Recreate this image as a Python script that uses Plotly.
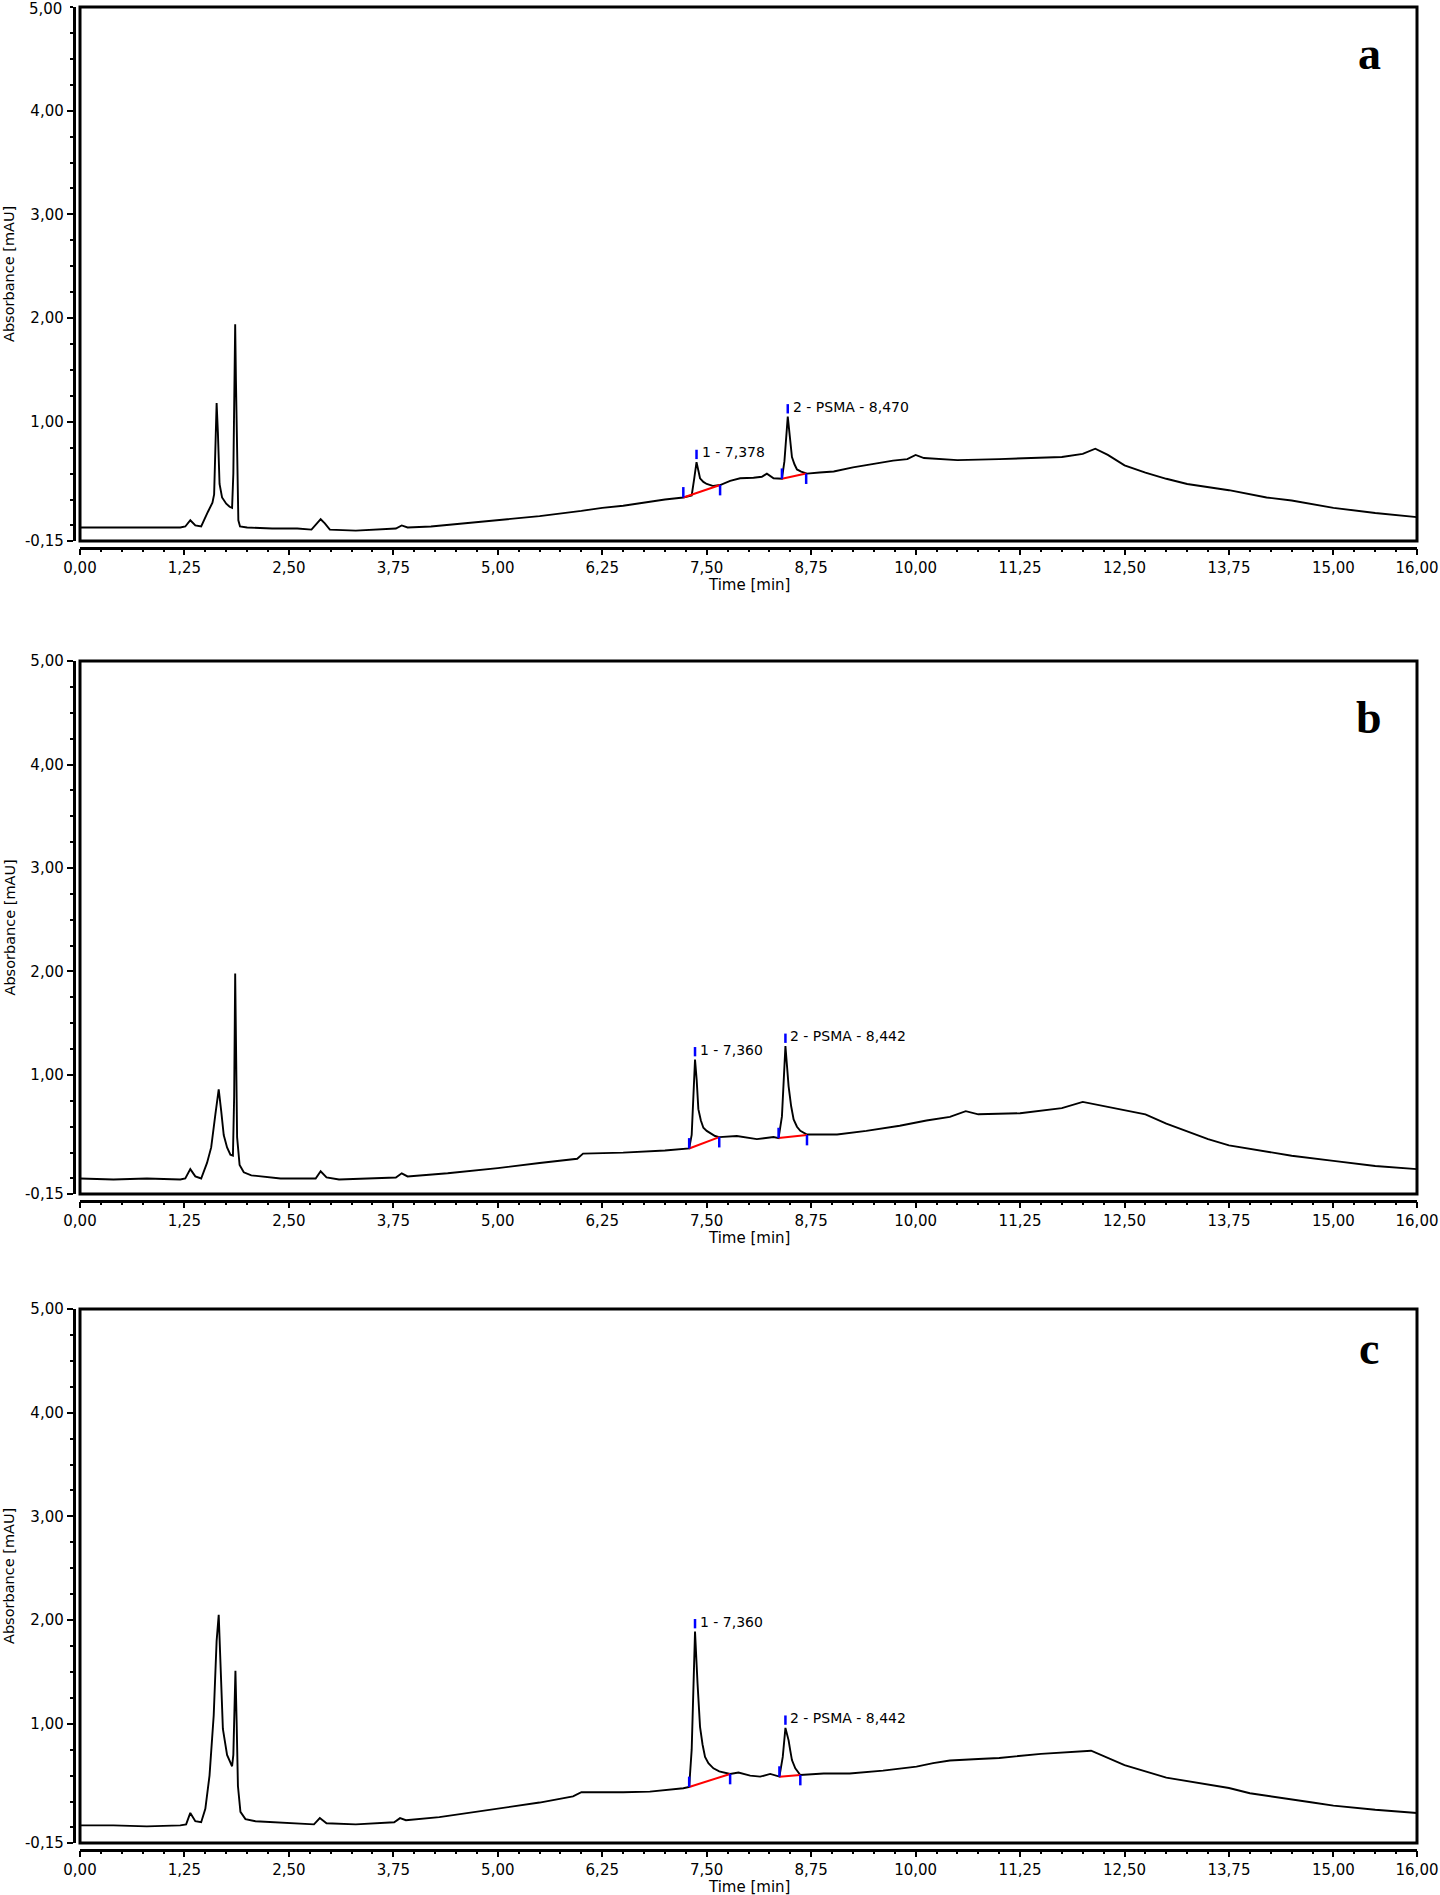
import plotly.graph_objects as go

W, H = 1440, 1895

# ---------------- data ----------------
time_a = [0.00, 0.30, 0.60, 0.90, 1.20, 1.26, 1.32, 1.38, 1.45, 1.53, 1.585, 1.605, 1.625, 1.635, 1.65, 1.67,
          1.70, 1.75, 1.79, 1.82, 1.835, 1.848, 1.857, 1.866, 1.88, 1.895, 1.915, 2.00, 2.30, 2.60, 2.77, 2.83,
          2.88, 2.93, 2.99, 3.30, 3.60, 3.78, 3.85, 3.92, 4.20, 4.60, 5.00, 5.50, 6.00, 6.25, 6.50, 6.80, 7.00,
          7.22, 7.32, 7.35, 7.378, 7.40, 7.42, 7.46, 7.50, 7.58, 7.66, 7.78, 7.90, 8.06, 8.16, 8.22, 8.30, 8.40,
          8.43, 8.47, 8.50, 8.52, 8.55, 8.58, 8.63, 8.70, 8.85, 9.02, 9.25, 9.53, 9.73, 9.90, 10.00, 10.10, 10.50,
          11.00, 11.50, 11.75, 12.00, 12.15, 12.30, 12.50, 12.75, 13.00, 13.25, 13.75, 14.20, 14.50, 15.00, 15.50,
          16.00]
abs_a = [-0.02, -0.02, -0.02, -0.02, -0.02, -0.01, 0.05, 0.00, -0.01, 0.13, 0.22, 0.30, 0.95, 1.18, 0.90, 0.40,
         0.27, 0.21, 0.18, 0.17, 0.50, 1.60, 1.94, 1.40, 0.64, 0.05, -0.01, -0.02, -0.03, -0.03, -0.04, 0.02,
         0.06, 0.02, -0.04, -0.05, -0.04, -0.03, 0.00, -0.02, -0.01, 0.02, 0.05, 0.09, 0.14, 0.17, 0.19, 0.23, 0.25,
         0.27, 0.29, 0.45, 0.61, 0.53, 0.455, 0.42, 0.40, 0.38, 0.39, 0.43, 0.455, 0.46, 0.47, 0.50, 0.455, 0.45,
         0.62, 1.05, 0.80, 0.66, 0.59, 0.54, 0.52, 0.50, 0.51, 0.52, 0.56, 0.60, 0.625, 0.64, 0.68, 0.65, 0.63,
         0.64, 0.65, 0.66, 0.69, 0.74, 0.68, 0.58, 0.51, 0.45, 0.40, 0.34, 0.27, 0.24, 0.17, 0.12,
         0.08]

time_b = [0.00, 0.40, 0.80, 1.20, 1.26, 1.32, 1.38, 1.45, 1.52, 1.57, 1.62, 1.66, 1.69, 1.72, 1.76, 1.80, 1.83,
          1.845, 1.857, 1.868, 1.88, 1.91, 1.96, 2.05, 2.40, 2.70, 2.82, 2.88, 2.95, 3.10, 3.50, 3.78, 3.85, 3.92,
          4.40, 5.00, 5.50, 5.95, 6.02, 6.50, 7.00, 7.29, 7.32, 7.34, 7.36, 7.38, 7.40, 7.43, 7.46, 7.50, 7.56,
          7.60, 7.65, 7.86, 8.10, 8.30, 8.36, 8.40, 8.442, 8.48, 8.51, 8.54, 8.58, 8.62, 8.70, 9.06, 9.41, 9.81,
          10.13, 10.41, 10.60, 10.75, 11.25, 11.75, 12.00, 12.25, 12.50, 12.75, 13.00, 13.50, 13.75, 14.50, 15.00,
          15.50, 16.00]
abs_b = [0.00, -0.01, 0.00, -0.01, 0.00, 0.09, 0.02, 0.00, 0.15, 0.30, 0.62, 0.86, 0.65, 0.42, 0.30, 0.23, 0.22,
         0.80, 1.98, 1.20, 0.40, 0.13, 0.06, 0.03, 0.00, 0.00, 0.00, 0.07, 0.01, -0.01, 0.00, 0.01, 0.05, 0.02,
         0.05, 0.10, 0.15, 0.19, 0.24, 0.25, 0.27, 0.29, 0.42, 0.89, 1.15, 0.95, 0.67, 0.56, 0.49, 0.46, 0.425,
         0.41, 0.40, 0.41, 0.38, 0.40, 0.39, 0.60, 1.28, 0.89, 0.70, 0.57, 0.50, 0.46, 0.425, 0.425, 0.46, 0.51,
         0.56, 0.595, 0.65, 0.62, 0.63, 0.68, 0.74, 0.70, 0.66, 0.62, 0.53, 0.38, 0.32, 0.22, 0.17,
         0.12, 0.09]

time_c = [0.00, 0.40, 0.80, 1.20, 1.27, 1.32, 1.38, 1.45, 1.50, 1.55, 1.60, 1.635, 1.66, 1.68, 1.71, 1.76, 1.82,
          1.835, 1.85, 1.86, 1.875, 1.89, 1.92, 1.98, 2.10, 2.50, 2.80, 2.87, 2.95, 3.30, 3.70, 3.76, 3.83, 3.90,
          4.30, 5.00, 5.50, 5.90, 6.00, 6.50, 6.82, 7.22, 7.29, 7.32, 7.34, 7.36, 7.39, 7.42, 7.45, 7.48, 7.52,
          7.58, 7.65, 7.78, 7.88, 8.02, 8.14, 8.26, 8.37, 8.41, 8.442, 8.48, 8.50, 8.52, 8.56, 8.62, 8.90, 9.21,
          9.61, 10.01, 10.21, 10.41, 10.75, 11.00, 11.50, 12.00, 12.10, 12.50, 13.00, 13.75, 14.00, 14.75, 15.00,
          15.50, 16.00]
abs_c = [0.02, 0.02, 0.01, 0.02, 0.03, 0.14, 0.06, 0.05, 0.18, 0.50, 1.08, 1.80, 2.05, 1.60, 0.95, 0.70, 0.59,
         0.70, 1.30, 1.51, 1.00, 0.40, 0.15, 0.08, 0.06, 0.04, 0.03, 0.09, 0.04, 0.03, 0.05, 0.05, 0.09, 0.07,
         0.10, 0.18, 0.24, 0.30, 0.34, 0.34, 0.345, 0.378, 0.39, 0.75, 1.29, 1.89, 1.39, 0.97, 0.80, 0.68, 0.62,
         0.57, 0.54, 0.516, 0.53, 0.50, 0.49, 0.516, 0.49, 0.68, 0.96, 0.84, 0.74, 0.65, 0.57, 0.506, 0.52, 0.52,
         0.548, 0.586, 0.62, 0.645, 0.66, 0.67, 0.71, 0.73, 0.74, 0.60, 0.48, 0.38, 0.33, 0.24, 0.21,
         0.17, 0.14]

# integrated peaks: start, end, apex and labels
peak_start_x = {"a": [7.22, 8.40], "b": [7.29, 8.36], "c": [7.29, 8.37]}
peak_start_y = {"a": [0.27, 0.45], "b": [0.29, 0.39], "c": [0.39, 0.49]}
peak_end_x = {"a": [7.66, 8.69], "b": [7.65, 8.70], "c": [7.78, 8.62]}
peak_end_y = {"a": [0.39, 0.50], "b": [0.40, 0.42], "c": [0.516, 0.506]}
apex_x = {"a": [7.378, 8.470], "b": [7.360, 8.442], "c": [7.360, 8.442]}
apex_y = {"a": [0.61, 1.05], "b": [1.15, 1.28], "c": [1.89, 0.96]}
peak_labels = {"a": ["1 - 7,378", "2 - PSMA - 8,470"],
               "b": ["1 - 7,360", "2 - PSMA - 8,442"],
               "c": ["1 - 7,360", "2 - PSMA - 8,442"]}

x_tickvals = [0, 1.25, 2.5, 3.75, 5, 6.25, 7.5, 8.75, 10, 11.25, 12.5, 13.75, 15, 16]
x_ticktext = ["0,00", "1,25", "2,50", "3,75", "5,00", "6,25", "7,50", "8,75", "10,00", "11,25",
              "12,50", "13,75", "15,00", "16,00"]
y_tickvals = [-0.15, 1, 2, 3, 4, 5]
y_ticktext = ["-0,15", "1,00", "2,00", "3,00", "4,00", "5,00"]
panel_letters = ["a", "b", "c"]

# ---------------- layout geometry (pixels) ----------------
box_left, box_right = 80, 1417
panels_px = [(7, 541), (661, 1194), (1309, 1843)]  # top, bottom
letter_y = [4.55, 4.45, 4.62]

FONT = "DejaVu Sans"
fig = go.Figure()

series = [(time_a, abs_a), (time_b, abs_b), (time_c, abs_c)]
layout = dict(width=W, height=H, margin=dict(l=0, r=0, t=0, b=0, autoexpand=False),
              paper_bgcolor="white", plot_bgcolor="white", showlegend=False)
shapes = []
annotations = []

for i, key in enumerate(panel_letters):
    sfx = "" if i == 0 else str(i + 1)
    xa, ya = "x" + sfx, "y" + sfx
    t, a = series[i]
    fig.add_trace(go.Scatter(x=t, y=a, mode="lines", line=dict(color="black", width=1.9),
                             xaxis=xa, yaxis=ya, hoverinfo="skip"))
    # red baselines
    rx, ry = [], []
    for k in range(2):
        rx += [peak_start_x[key][k], peak_end_x[key][k], None]
        ry += [peak_start_y[key][k], peak_end_y[key][k], None]
    fig.add_trace(go.Scatter(x=rx, y=ry, mode="lines", line=dict(color="#ff0000", width=2),
                             xaxis=xa, yaxis=ya, hoverinfo="skip"))
    # blue delimiters
    bx, by = [], []
    for k in range(2):
        sx_, sy_ = peak_start_x[key][k], peak_start_y[key][k]
        ex_, ey_ = peak_end_x[key][k], peak_end_y[key][k]
        ax_, ay_ = apex_x[key][k], apex_y[key][k]
        bx += [sx_, sx_, None, ex_, ex_, None, ax_, ax_, None]
        by += [sy_, sy_ + 0.10, None, ey_ - 0.10, ey_, None, ay_ + 0.03, ay_ + 0.12, None]
        annotations.append(dict(x=ax_, y=ay_ + 0.095, xref=xa, yref=ya, text=peak_labels[key][k],
                                showarrow=False, xanchor="left", yanchor="middle", xshift=3,
                                font=dict(family=FONT, size=14, color="black")))
    fig.add_trace(go.Scatter(x=bx, y=by, mode="lines", line=dict(color="#0000ff", width=2.5),
                             xaxis=xa, yaxis=ya, hoverinfo="skip"))

    top, bot = panels_px[i]
    if i == 0:
        # top label of the first panel sits at the page edge: draw it as an annotation
        yvals, ytext = y_tickvals[:-1], y_ticktext[:-1]
        annotations.append(dict(x=64 / W, y=y_tickvals[-1], xref="paper", yref=ya, text=y_ticktext[-1],
                                showarrow=False, xanchor="right", yanchor="middle", yshift=-2,
                                font=dict(family=FONT, size=15, color="black")))
    else:
        yvals, ytext = y_tickvals, y_ticktext
    layout["xaxis" + sfx] = dict(
        domain=[box_left / W, box_right / W], anchor="free", position=1 - (bot + 6.5) / H,
        range=[0, 16], showline=True, linewidth=2.5, linecolor="black",
        ticks="outside", ticklen=6, tickwidth=2, tickcolor="black",
        tickmode="array", tickvals=x_tickvals, ticktext=x_ticktext,
        tickfont=dict(family=FONT, size=15, color="black"),
        minor=dict(ticks="outside", ticklen=3, tickwidth=2, tickcolor="black", tickmode="linear",
                   tick0=0, dtick=0.25),
        showgrid=False, zeroline=False, automargin=False, fixedrange=True)
    layout["yaxis" + sfx] = dict(
        domain=[1 - bot / H, 1 - top / H], anchor="free", position=73.5 / W,
        range=[-0.15, 5.0], showline=True, linewidth=2.5, linecolor="black",
        ticks="outside", ticklen=6, tickwidth=2, tickcolor="black",
        tickmode="array", tickvals=yvals, ticktext=ytext,
        tickfont=dict(family=FONT, size=15, color="black"),
        minor=dict(ticks="outside", ticklen=3, tickwidth=2, tickcolor="black", tickmode="linear",
                   tick0=0, dtick=0.25),
        showgrid=False, zeroline=False, automargin=False, fixedrange=True)
    shapes.append(dict(type="rect", xref=xa + " domain", yref=ya + " domain", x0=0, x1=1, y0=0, y1=1,
                       line=dict(color="black", width=3), fillcolor="rgba(0,0,0,0)", layer="above"))
    annotations.append(dict(x=9 / W, y=1 - (top + bot) / 2 / H, xref="paper", yref="paper",
                            text="Absorbance [mAU]", textangle=-90, showarrow=False,
                            xanchor="center", yanchor="middle",
                            font=dict(family=FONT, size=14.5, color="black")))
    annotations.append(dict(x=(box_left + box_right) / 2 / W, y=1 - (bot + 44) / H, xref="paper",
                            yref="paper", text="Time [min]", showarrow=False,
                            xanchor="center", yanchor="middle",
                            font=dict(family=FONT, size=15, color="black")))
    annotations.append(dict(x=15.43, y=letter_y[i], xref=xa, yref=ya, text="<b>%s</b>" % key,
                            showarrow=False, xanchor="center", yanchor="middle",
                            font=dict(family="Liberation Serif", size=46, color="black")))

layout["shapes"] = shapes
layout["annotations"] = annotations
fig.update_layout(**layout)
fig.write_html("out.html", config={"displayModeBar": False},
               post_script="document.body.style.margin='0';document.body.style.overflow='hidden';")
